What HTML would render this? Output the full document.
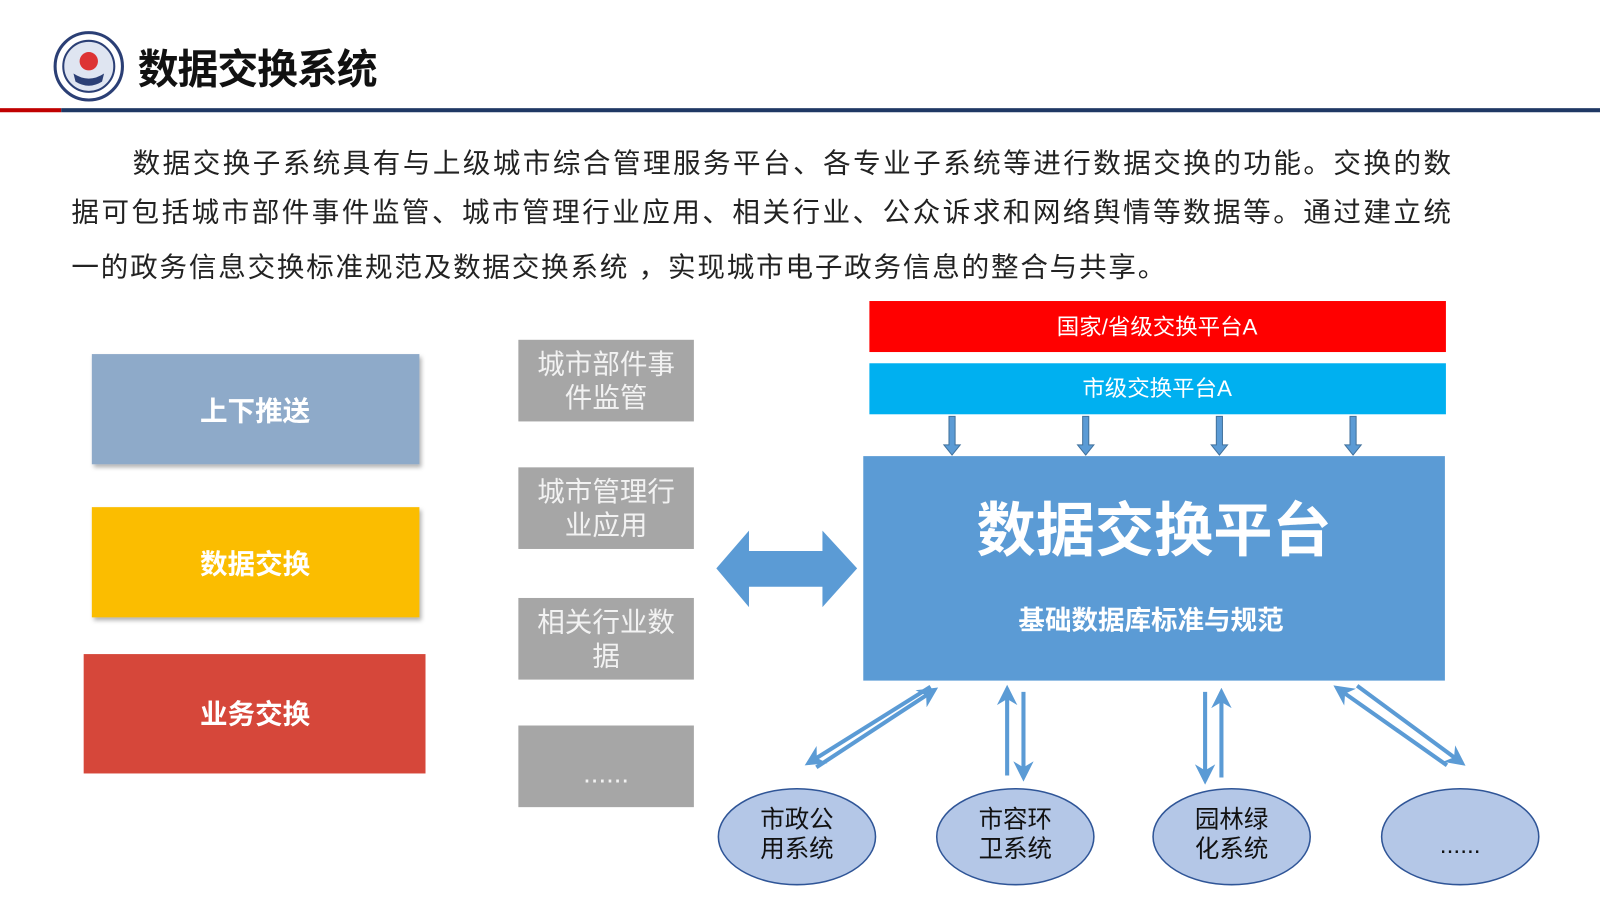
<!DOCTYPE html>
<html><head><meta charset="utf-8"><style>
html,body{margin:0;padding:0;background:#fff;width:1600px;height:900px;overflow:hidden}
svg{display:block}
text{font-family:"Liberation Sans","Noto Sans CJK SC",sans-serif}
</style></head><body>
<svg width="1600" height="900" viewBox="0 0 1568 882" xmlns="http://www.w3.org/2000/svg">
<defs>
<marker id="ah" viewBox="0 0 10 10" refX="8" refY="5" markerWidth="5" markerHeight="5" orient="auto-start-reverse"><path d="M0,0 L10,5 L0,10 L3,5z" fill="#5b9bd5"/></marker>
<filter id="sh"><feDropShadow dx="2" dy="3" stdDeviation="2" flood-color="#000" flood-opacity="0.3"/></filter>
</defs>
<circle cx="87" cy="65" r="33" fill="#fff" stroke="#2b3f75" stroke-width="3"/>
<circle cx="87" cy="65" r="25" fill="#dfe5f1" stroke="#2b3f75" stroke-width="2"/>
<circle cx="87" cy="60" r="9" fill="#d33"/>
<path d="M72,72 Q87,82 102,72 L100,80 Q87,88 74,80z" fill="#2b3f75"/>
<text x="135" y="82" font-size="40" font-weight="bold" fill="#111" textLength="235">数据交换系统</text>
<rect x="0" y="106" width="60" height="4" fill="#c00000"/>
<rect x="60" y="106" width="1508" height="4" fill="#1f3864"/>
<g font-size="27" fill="#222">
<text x="130" y="169" textLength="1292">数据交换子系统具有与上级城市综合管理服务平台、各专业子系统等进行数据交换的功能。交换的数</text>
<text x="70" y="217" textLength="1352">据可包括城市部件事件监管、城市管理行业应用、相关行业、公众诉求和网络舆情等数据等。通过建立统</text>
<text x="70" y="271" textLength="1072">一的政务信息交换标准规范及数据交换系统 ，实现城市电子政务信息的整合与共享。</text>
</g>
<rect x="90" y="347" width="321" height="108" fill="#8eaac9" filter="url(#sh)"/>
<rect x="90" y="497" width="321" height="108" fill="#fbbd00" filter="url(#sh)"/>
<rect x="82" y="641" width="335" height="117" fill="#d6473a"/>
<g font-size="27" font-weight="bold" fill="#fff" text-anchor="middle">
<text x="250" y="412">上下推送</text>
<text x="250" y="562">数据交换</text>
<text x="250" y="709">业务交换</text>
</g>
<g fill="#a6a6a6">
<rect x="508" y="333" width="172" height="80"/>
<rect x="508" y="458" width="172" height="80"/>
<rect x="508" y="586" width="172" height="80"/>
<rect x="508" y="711" width="172" height="80"/>
</g>
<g font-size="27" fill="#f2f2f2" text-anchor="middle">
<text x="594" y="366">城市部件事</text><text x="594" y="399">件监管</text>
<text x="594" y="491">城市管理行</text><text x="594" y="524">业应用</text>
<text x="594" y="619">相关行业数</text><text x="594" y="652">据</text>
<text x="594" y="767">......</text>
</g>
<path d="M702,557 L734,520 L734,540 L806,540 L806,520 L840,557 L806,595 L806,575 L734,575 L734,595z" fill="#5b9bd5"/>
<rect x="852" y="295" width="565" height="50" fill="#ff0000"/>
<text x="1134" y="328" font-size="22" fill="#fff" text-anchor="middle">国家/省级交换平台A</text>
<rect x="852" y="356" width="565" height="50" fill="#00b0f0"/>
<text x="1134" y="388" font-size="22" fill="#fff" text-anchor="middle">市级交换平台A</text>
<g fill="#5b9bd5" stroke="#41719c" stroke-width="1">
<path d="M930,408h6v28h5l-8,10l-8,-10h5z"/>
<path d="M1061,408h6v28h5l-8,10l-8,-10h5z"/>
<path d="M1192,408h6v28h5l-8,10l-8,-10h5z"/>
<path d="M1323,408h6v28h5l-8,10l-8,-10h5z"/>
</g>
<rect x="846" y="447" width="570" height="220" fill="#5b9bd5"/>
<text x="1131" y="540" font-size="58" font-weight="bold" fill="#fff" text-anchor="middle">数据交换平台</text>
<text x="1128" y="617" font-size="26" font-weight="bold" fill="#fff" text-anchor="middle">基础数据库标准与规范</text>
<g stroke="#5b9bd5" stroke-width="4" fill="none">
<line x1="912" y1="673" x2="792" y2="748" marker-end="url(#ah)"/>
<line x1="800" y1="752" x2="916" y2="676" marker-end="url(#ah)"/>
<line x1="987" y1="760" x2="987" y2="675" marker-end="url(#ah)"/>
<line x1="1003" y1="678" x2="1003" y2="762" marker-end="url(#ah)"/>
<line x1="1181" y1="678" x2="1181" y2="765" marker-end="url(#ah)"/>
<line x1="1197" y1="762" x2="1197" y2="678" marker-end="url(#ah)"/>
<line x1="1418" y1="750" x2="1310" y2="674" marker-end="url(#ah)"/>
<line x1="1330" y1="672" x2="1433" y2="748" marker-end="url(#ah)"/>
</g>
<g fill="#b4c7e7" stroke="#2f5597" stroke-width="1.5">
<ellipse cx="781" cy="820" rx="77" ry="47"/>
<ellipse cx="995" cy="820" rx="77" ry="47"/>
<ellipse cx="1207" cy="820" rx="77" ry="47"/>
<ellipse cx="1431" cy="820" rx="77" ry="47"/>
</g>
<g font-size="24" fill="#111" text-anchor="middle">
<text x="781" y="811">市政公</text><text x="781" y="840">用系统</text>
<text x="995" y="811">市容环</text><text x="995" y="840">卫系统</text>
<text x="1207" y="811">园林绿</text><text x="1207" y="840">化系统</text>
<text x="1431" y="836">......</text>
</g>
</svg>
</body></html>
